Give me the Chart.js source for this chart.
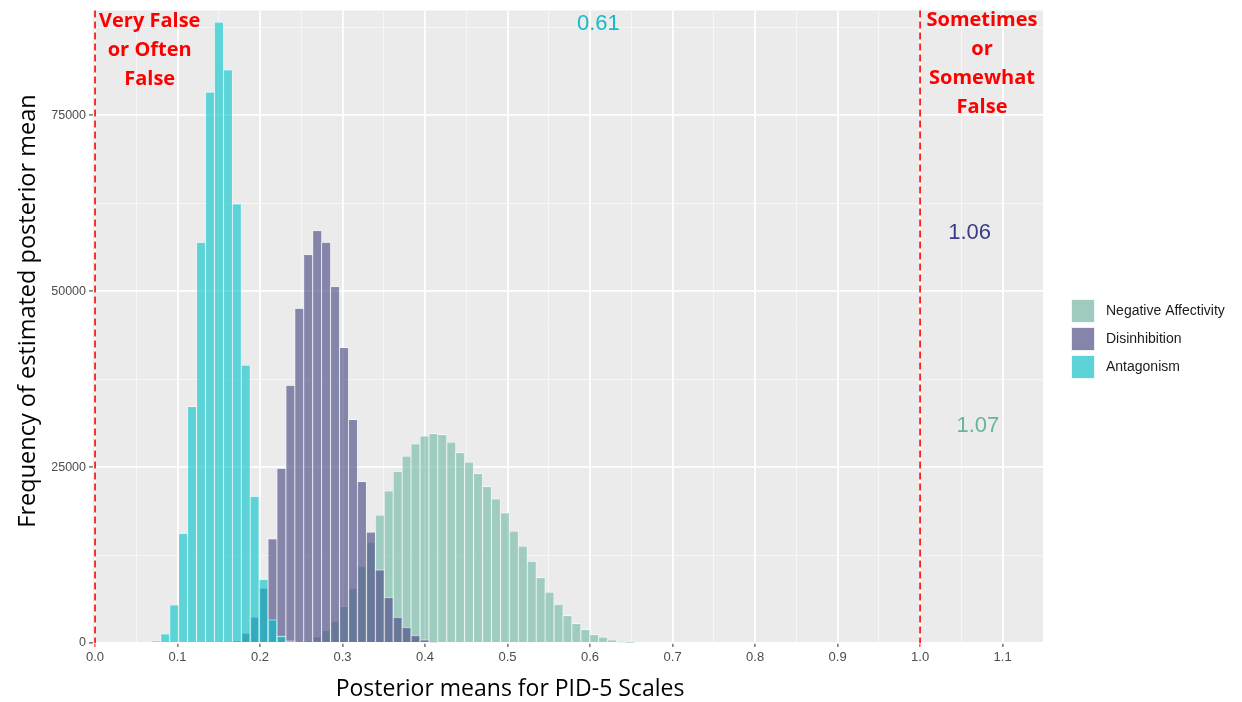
<!DOCTYPE html>
<html><head><meta charset="utf-8">
<script src="https://cdn.jsdelivr.net/npm/chart.js@4.4.1/dist/chart.umd.min.js"></script>
<style>html,body{margin:0;padding:0;background:#fff;}canvas{display:block;}</style>
</head><body>
<canvas id="c" width="1242" height="702"></canvas>
<script>
// ---- data ----
const binCenters = [0.0743,0.0851,0.0960,0.1068,0.1176,0.1285,0.1393,0.1501,0.1610,0.1718,
  0.1826,0.1934,0.2043,0.2151,0.2259,0.2368,0.2476,0.2584,0.2693,0.2801,
  0.2909,0.3018,0.3126,0.3234,0.3343,0.3451,0.3559,0.3668,0.3776,0.3884,
  0.3993,0.4101,0.4209,0.4318,0.4426,0.4534,0.4643,0.4751,0.4859,0.4968,
  0.5076,0.5184,0.5293,0.5401,0.5509,0.5618,0.5726,0.5834,0.5943,0.6051,
  0.6159,0.6268,0.6376,0.6484];
const antagonism = [300,1280,5400,15580,33600,56950,78300,88250,81450,62400,
  39500,20850,9050,3300,970,300,null,null,null,null,
  null,null,null,null,null,null,null,null,null,null,
  null,null,null,null,null,null,null,null,null,null,
  null,null,null,null,null,null,null,null,null,null,
  null,null,null,null];
const disinhibition = [null,null,null,null,null,null,null,null,null,300,
  1390,3670,7790,14800,24830,36620,47560,55190,58600,56940,
  50640,41980,31750,22940,15740,10400,6460,3670,2200,1070,
  450,150,null,null,null,null,null,null,null,null,
  null,null,null,null,null,null,null,null,null,null,
  null,null,null,null];
const negativeAffectivity = [null,null,null,null,null,null,null,null,null,null,
  null,null,null,null,null,null,null,300,900,1780,
  3100,5180,7790,10910,14320,18150,21620,24400,26540,28290,
  29430,29760,29620,28530,27060,25690,24080,22230,20480,18490,
  15880,13750,11580,9300,7220,5470,3880,2750,1900,1180,
  810,430,150,50];
const seriesNames = ['Antagonism','Disinhibition','Negative Affectivity'];
const xMajorTicks = [0,0.1,0.2,0.3,0.4,0.5,0.6,0.7,0.8,0.9,1.0,1.1];
const xTickLabels = ['0.0','0.1','0.2','0.3','0.4','0.5','0.6','0.7','0.8','0.9','1.0','1.1'];
const xMinorTicks = [0.05,0.15,0.25,0.35,0.45,0.55,0.65,0.75,0.85,0.95,1.05];
const yMajorTicks = [0,25000,50000,75000];
const yTickLabels = ['0','25000','50000','75000'];
const yMinorTicks = [12500,37500,62500,87500];
const cutoffLines = [0, 1];
const maxLabels = ['0.61','1.06','1.07'];
const maxLabelX = [0.61,1.06,1.07];
const maxLabelY = [88000,58300,30800];
const leftAnchorText = ['Very False','or Often','False'];
const rightAnchorText = ['Sometimes','or','Somewhat','False'];

// ---- styles ----
const fills = ['rgba(0,195,202,0.6)','rgba(65,65,127,0.6)','rgba(110,182,163,0.6)'];
const labelColors = ['#19b9c6','#3c3c86','#68b498'];
const seriesValues = [antagonism, disinhibition, negativeAffectivity];

function toPoints(vals){
  const out = [];
  vals.forEach((v,i)=>{ if (v !== null) out.push({x: binCenters[i], y: v}); });
  return out;
}
const datasets = seriesValues.map((vals,i)=>({
  label: seriesNames[i],
  data: toPoints(vals),
  backgroundColor: fills[i],
  borderColor: 'rgba(255,255,255,0.9)',
  borderWidth: 0.65,
  barPercentage: 1,
  categoryPercentage: 1,
  grouped: false
}));

const isMajorX = v => xMajorTicks.some(t => Math.abs(t - v) < 1e-9);
const isMajorY = v => yMajorTicks.includes(v);

const decor = {
  id: 'decor',
  beforeDraw(chart){
    const {ctx, chartArea:a} = chart;
    ctx.save();
    ctx.fillStyle = '#ffffff';
    ctx.fillRect(0,0,chart.width,chart.height);
    ctx.fillStyle = '#EBEBEB';
    ctx.fillRect(a.left, a.top, a.right-a.left, a.bottom-a.top);
    ctx.restore();
  },
  afterDatasetsDraw(chart){
    const {ctx, chartArea:a, scales:{x}} = chart;
    ctx.save();
    ctx.strokeStyle = '#FF0000';
    ctx.lineWidth = 1.6;
    ctx.setLineDash([7,4]);
    cutoffLines.forEach(v=>{
      const px = x.getPixelForValue(v);
      ctx.beginPath(); ctx.moveTo(px, a.top); ctx.lineTo(px, a.bottom); ctx.stroke();
    });
    ctx.restore();
  },
  afterDraw(chart){
    const {ctx, chartArea:a, scales:{x,y}} = chart;
    ctx.save();
    // red anchor labels
    ctx.fillStyle = '#FF0000';
    ctx.font = 'bold 20px "Open Sans", sans-serif';
    ctx.textAlign = 'center';
    ctx.textBaseline = 'alphabetic';
    leftAnchorText.forEach((t,i)=> ctx.fillText(t, 149.7, 27.3 + i*28.7));
    rightAnchorText.forEach((t,i)=> ctx.fillText(t, 982, 26 + i*28.9));
    // max labels
    ctx.font = '22px "Liberation Sans", Arial, sans-serif';
    ctx.textBaseline = 'middle';
    maxLabels.forEach((t,i)=>{
      ctx.fillStyle = labelColors[i];
      ctx.fillText(t, x.getPixelForValue(maxLabelX[i]), y.getPixelForValue(maxLabelY[i]));
    });
    // axis titles
    ctx.fillStyle = '#000000';
    ctx.font = '23px "Open Sans", sans-serif';
    ctx.fillText('Posterior means for PID-5 Scales', 510, 689);
    ctx.save();
    ctx.translate(28, 311);
    ctx.rotate(-Math.PI/2);
    ctx.font = '23.5px "Open Sans", sans-serif';
    ctx.fillText('Frequency of estimated posterior mean', 0, 0);
    ctx.restore();
    // legend (reversed dataset order, like the reference)
    ctx.font = '14px "Liberation Sans", Arial, sans-serif';
    ctx.textAlign = 'left';
    const order = chart.data.datasets.map((d,i)=>i).reverse();
    order.forEach((di,k)=>{
      const ds = chart.data.datasets[di];
      const bx = 1071, by = 299 + k*28, s = 24;
      ctx.fillStyle = '#EBEBEB'; ctx.fillRect(bx,by,s,s);
      ctx.fillStyle = ds.backgroundColor; ctx.fillRect(bx,by,s,s);
      ctx.strokeStyle = 'rgba(255,255,255,0.85)'; ctx.lineWidth = 1;
      ctx.strokeRect(bx+0.5,by+0.5,s-1,s-1);
      ctx.fillStyle = '#1a1a1a';
      ctx.fillText(ds.label, 1106, by + s/2);
    });
    ctx.restore();
  }
};

new Chart(document.getElementById('c'), {
  type: 'bar',
  data: { datasets },
  options: {
    responsive: false,
    animation: false,
    devicePixelRatio: 1,
    layout: { padding: { top: 10, right: 199, left: 0, bottom: 0 } },
    plugins: { legend: { display: false }, tooltip: { enabled: false } },
    scales: {
      x: {
        type: 'linear',
        min: -0.0025, max: 1.149,
        offset: false,
        afterBuildTicks: ax => { ax.ticks = xMajorTicks.concat(xMinorTicks).sort((p,q)=>p-q).map(v=>({value:v})); },
        afterFit: ax => { ax.height = 59; },
        border: { display: false },
        grid: {
          offset: false,
          color: ctx => isMajorX(ctx.tick.value) ? '#FFFFFF' : '#F7F7F7',
          lineWidth: ctx => isMajorX(ctx.tick.value) ? 1.8 : 0.9,
          tickLength: 4,
          tickWidth: 1,
          tickColor: ctx => {
            const v = ctx.tick.value;
            if (!isMajorX(v)) return 'rgba(0,0,0,0)';
            return cutoffLines.some(c => Math.abs(c - v) < 1e-9) ? '#FF0000' : '#333333';
          }
        },
        ticks: {
          autoSkip: false, maxRotation: 0, minRotation: 0, padding: 3,
          color: '#4D4D4D', font: { family: '"Liberation Sans", Arial, sans-serif', size: 13 },
          callback: v => { const i = xMajorTicks.findIndex(t => Math.abs(t - v) < 1e-9); return i >= 0 ? xTickLabels[i] : ''; }
        }
      },
      y: {
        min: 0, max: 89900,
        afterBuildTicks: ax => { ax.ticks = yMajorTicks.concat(yMinorTicks).sort((p,q)=>p-q).map(v=>({value:v})); },
        afterFit: ax => { ax.width = 93; },
        border: { display: false },
        grid: {
          color: ctx => isMajorY(ctx.tick.value) ? '#FFFFFF' : '#F7F7F7',
          lineWidth: ctx => isMajorY(ctx.tick.value) ? 1.8 : 0.9,
          tickLength: 4,
          tickWidth: 1,
          tickColor: ctx => isMajorY(ctx.tick.value) ? '#333333' : 'rgba(0,0,0,0)'
        },
        ticks: {
          autoSkip: false, padding: 3,
          color: '#4D4D4D', font: { family: '"Liberation Sans", Arial, sans-serif', size: 12.5 },
          callback: v => { const i = yMajorTicks.indexOf(v); return i >= 0 ? yTickLabels[i] : ''; }
        }
      }
    }
  },
  plugins: [decor]
});
</script>
</body></html>
